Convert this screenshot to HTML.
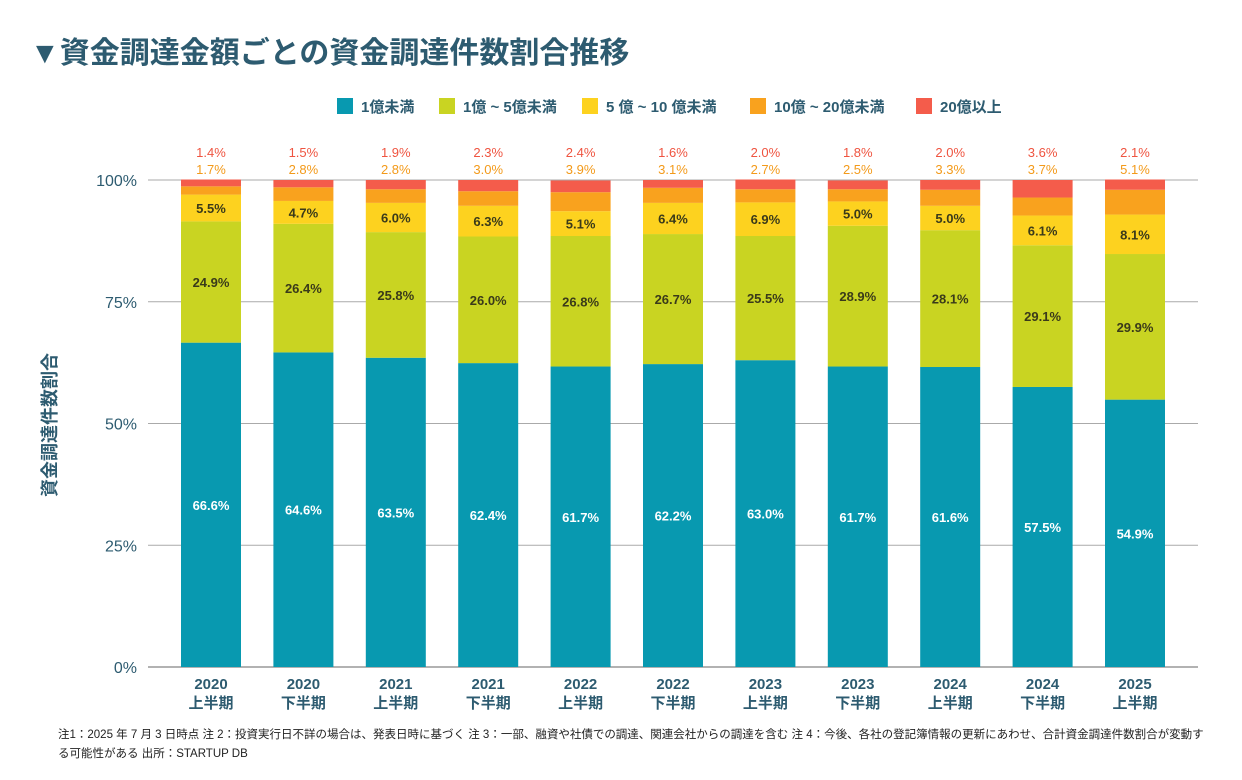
<!DOCTYPE html>
<html><head><meta charset="utf-8">
<style>
body{margin:0;background:#fff;width:1242px;height:775px;overflow:hidden;font-family:"Liberation Sans","Noto Sans CJK JP",sans-serif;}
svg text{font-family:"Liberation Sans","Noto Sans CJK JP",sans-serif;}
</style></head>
<body>
<svg id="chart" width="1242" height="775">
<text x="30" y="63" font-size="30" font-weight="bold" fill="#2d5b70">▼資金調達金額ごとの資金調達件数割合推移</text>
<g id="legend"></g>
<g id="grid"></g>
<g id="bars"></g>
<g id="labels"></g>
<text transform="translate(56,425) rotate(-90)" text-anchor="middle" font-size="18" font-weight="bold" fill="#2d5b70">資金調達件数割合</text>
<text x="58" y="738" font-size="11.5" fill="#222">注1：2025 年 7 月 3 日時点 注 2：投資実行日不詳の場合は、発表日時に基づく 注 3：一部、融資や社債での調達、関連会社からの調達を含む 注 4：今後、各社の登記簿情報の更新にあわせ、合計資金調達件数割合が変動す</text>
<text x="58" y="757" font-size="11.5" fill="#222">る可能性がある 出所：STARTUP DB</text>
</svg>
<script>
const categories=["2020|上半期","2020|下半期","2021|上半期","2021|下半期","2022|上半期","2022|下半期","2023|上半期","2023|下半期","2024|上半期","2024|下半期","2025|上半期"];
const seriesNames=["1億未満","1億 ~ 5億未満","5 億 ~ 10 億未満","10億 ~ 20億未満","20億以上"];
const s1=[66.6,64.6,63.5,62.4,61.7,62.2,63.0,61.7,61.6,57.5,54.9];
const s2=[24.9,26.4,25.8,26.0,26.8,26.7,25.5,28.9,28.1,29.1,29.9];
const s3=[5.5,4.7,6.0,6.3,5.1,6.4,6.9,5.0,5.0,6.1,8.1];
const s4=[1.7,2.8,2.8,3.0,3.9,3.1,2.7,2.5,3.3,3.7,5.1];
const s5=[1.4,1.5,1.9,2.3,2.4,1.6,2.0,1.8,2.0,3.6,2.1];
const yTicks=[0,25,50,75,100];
const colors=["#0899b0","#c9d422","#fdd21f","#f9a21e","#f45c4b"];
const NS="http://www.w3.org/2000/svg";
function el(t,a,p,txt){const e=document.createElementNS(NS,t);for(const k in a)e.setAttribute(k,a[k]);if(txt!==undefined)e.textContent=txt;p.appendChild(e);return e;}
const y0=667,y1=180,xL=148,xR=1198;
function yS(v){return y0-(y0-y1)*v/100;}
function xS(i){return 211+i*92.4;}
const bw=60;
const grid=document.getElementById('grid');
yTicks.forEach(t=>{
 const l=el('line',{x1:xL,x2:xR,y1:yS(t),y2:yS(t),stroke:t===0?'#666':'#aaa','stroke-width':1},grid);
 
 
 const tx=el('text',{x:137,y:yS(t)+6,'text-anchor':'end','font-size':16,fill:'#2d5b70'},grid,t+'%');
 
 
});
const series=[s1,s2,s3,s4,s5];
const bars=document.getElementById('bars'),labs=document.getElementById('labels');
categories.forEach((c,i)=>{
 let cum=0;
 series.forEach((s,k)=>{
  const v=s[i];
  const r=el('rect',{x:xS(i)-bw/2,y:yS(cum+v),width:bw,height:yS(cum)-yS(cum+v),fill:colors[k]},bars);
  
  
  if(k<3){
   const t=el('text',{x:xS(i),y:yS(cum+v/2)+5,'text-anchor':'middle','font-size':13,'font-weight':'bold',fill:k===0?'#fff':'#3a3a1a'},labs,v.toFixed(1)+'%');
   
   
  }
  cum+=v;
 });
 const t4=el('text',{x:xS(i),y:174,'text-anchor':'middle','font-size':13,fill:'#f39a1a'},labs,s4[i].toFixed(1)+'%');
 
 
 const t5=el('text',{x:xS(i),y:157,'text-anchor':'middle','font-size':13,fill:'#ef5440'},labs,s5[i].toFixed(1)+'%');
 
 
 const [a,b]=c.split('|');
 const c1=el('text',{x:xS(i),y:689,'text-anchor':'middle','font-size':15,'font-weight':'bold',fill:'#2d5b70'},labs,a);
 
 
 const c2=el('text',{x:xS(i),y:708,'text-anchor':'middle','font-size':15,'font-weight':'bold',fill:'#2d5b70'},labs,b);
 
 
});
const lg=document.getElementById('legend');
const lx=[337,439,582,750,916];
seriesNames.forEach((n,k)=>{
 const r=el('rect',{x:lx[k],y:98,width:16,height:16,fill:colors[k]},lg);
 
 
 const t=el('text',{x:lx[k]+24,y:112,'font-size':15,'font-weight':'bold',fill:'#2d5b70'},lg,n);
 
 
});
</script>
</body></html>
